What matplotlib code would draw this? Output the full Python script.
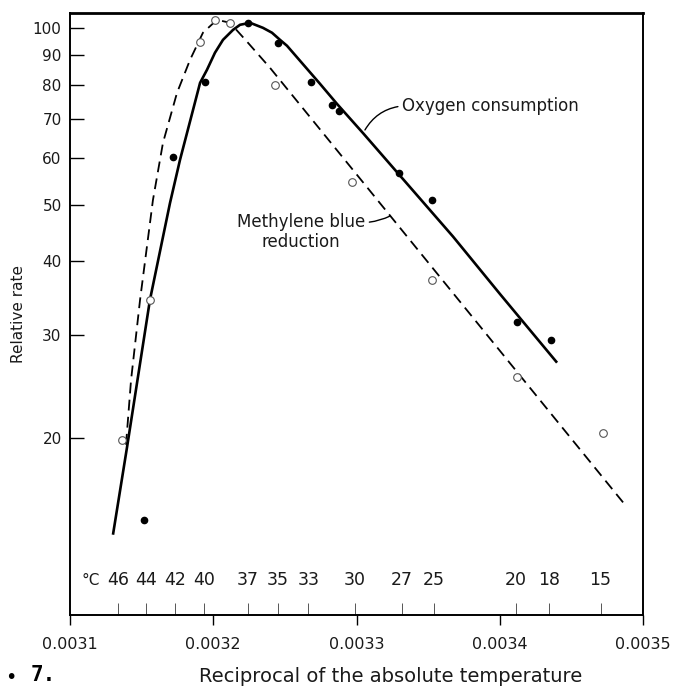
import numpy as np
import matplotlib
matplotlib.use("Agg")
import matplotlib.pyplot as plt
import matplotlib.transforms as mtransforms
from matplotlib.ticker import FixedLocator, NullLocator

plt.rcParams['font.family'] = ['DejaVu Sans']

# measured points: reciprocal of absolute temperature vs relative rate
o2_x = [0.003152, 0.003172, 0.003194, 0.003224, 0.003245, 0.003268,
        0.003283, 0.003288, 0.003330, 0.003353, 0.003412, 0.003436]
o2_y = [14.5, 60.3, 80.9, 102.0, 94.3, 80.9, 73.8, 72.2, 56.6, 50.9, 31.6, 29.4]

mb_x = [0.003136, 0.003156, 0.003191, 0.003201, 0.003212, 0.003243,
        0.003297, 0.003353, 0.003412, 0.003472]
mb_y = [19.9, 34.4, 94.7, 103.2, 102.0, 80.0, 54.7, 37.2, 25.4, 20.4]

# curves as drawn in the figure
o2_curve_x = [0.0031300, 0.0031398, 0.0031558, 0.0031698, 0.0031768,
              0.0031859, 0.0031908, 0.0031956, 0.0032012, 0.0032068,
              0.0032138, 0.0032187, 0.0032257, 0.0032347, 0.0032410,
              0.0032466, 0.0032515, 0.0032557, 0.0032745, 0.0032864,
              0.0033045, 0.0033304, 0.0033674, 0.0034002, 0.0034400]
o2_curve_y = [13.7, 19.3, 34.4, 50.3, 59.6, 72.5, 80.6, 84.8, 90.7, 95.4,
              99.2, 101.2, 102.0, 100.0, 98.1, 95.4, 93.2, 90.7, 80.3, 74.2,
              66.2, 56.0, 44.1, 35.2, 26.9]

mb_curve_x = [0.0031391, 0.0031426, 0.0031489, 0.0031579, 0.0031649,
              0.0031747, 0.0031838, 0.0031928, 0.0032026, 0.0032117,
              0.0032236, 0.0032396, 0.0034875]
mb_curve_y = [19.5, 25.1, 34.4, 50.9, 63.7, 77.5, 88.2, 98.1, 103.2, 102.0,
              94.7, 85.5, 15.4]

celsius = [46, 44, 42, 40, 37, 35, 33, 30, 27, 25, 20, 18, 15]
x_ticks = [0.0031, 0.0032, 0.0033, 0.0034, 0.0035]
y_ticks = [20, 30, 40, 50, 60, 70, 80, 90, 100]

TXT = '#1a1a1a'

fig = plt.figure(figsize=(6.75, 6.9), dpi=100, facecolor='white')
ax = fig.add_axes([0.1037, 0.1087, 0.8489, 0.8725])

ax.plot(o2_curve_x, o2_curve_y, color='black', lw=1.9, solid_capstyle='butt',
        solid_joinstyle='round')
ax.plot(mb_curve_x, mb_curve_y, color='black', lw=1.3, dashes=(6, 3.5))
ax.plot(o2_x, o2_y, 'o', color='black', ms=4.5)
ax.plot(mb_x, mb_y, 'o', mfc='white', mec='#555555', mew=0.8, ms=5.5)

ax.set_yscale('log')
ax.set_xlim(0.0031, 0.0035)
ax.set_ylim(10, 106)

ax.yaxis.set_major_locator(FixedLocator(y_ticks))
ax.yaxis.set_minor_locator(NullLocator())
ax.set_yticklabels([str(v) for v in y_ticks])
ax.tick_params(axis='y', direction='in', length=10, width=1, labelsize=11,
               pad=6, labelcolor=TXT)

ax.set_xticks(x_ticks)
ax.set_xticklabels([f'{v:.4f}' for v in x_ticks])
ax.tick_params(axis='x', which='major', direction='out', length=7, width=1,
               labelsize=11.5, pad=9, labelcolor=TXT)

# Celsius scale along the bottom
c_pos = [1.0 / (t + 273.15) for t in celsius]
ax.xaxis.set_minor_locator(FixedLocator(c_pos))
ax.tick_params(axis='x', which='minor', direction='in', length=9, width=0.7,
               color='#555555')
trans = mtransforms.blended_transform_factory(ax.transData, ax.transAxes)
for t, p in zip(celsius, c_pos):
    ax.text(p, 0.058, str(t), transform=trans, ha='center', va='center',
            fontsize=12.5, color=TXT)
ax.text(0.0031147, 0.058, '°C', transform=trans, ha='center', va='center',
        fontsize=11, color=TXT)

for name, s in ax.spines.items():
    s.set_linewidth(2.0 if name == 'top' else 1.4)

ax.annotate('Oxygen consumption', xy=(0.0033059, 67.0),
            xytext=(0.0033318, 73.6), ha='left', va='center', fontsize=12,
            color=TXT,
            arrowprops=dict(arrowstyle='-', lw=1, color='black',
                            connectionstyle='arc3,rad=0.25',
                            relpos=(0, 0.5), shrinkA=1, shrinkB=0))
ax.annotate('Methylene blue\nreduction', xy=(0.0033234, 47.8),
            xytext=(0.0032613, 44.9), ha='center', va='center', fontsize=12,
            linespacing=1.15, color=TXT,
            arrowprops=dict(arrowstyle='-', lw=1, color='black',
                            connectionstyle='arc3,rad=0.1',
                            relpos=(1, 0.75), shrinkA=1, shrinkB=0))

ax.set_ylabel('Relative rate', fontsize=11, color=TXT)
ax.yaxis.set_label_coords(-0.077, 0.5)
fig.text(0.578, 0.020, 'Reciprocal of the absolute temperature',
         ha='center', va='center', fontsize=14, color=TXT)
fig.text(0.016, 0.018, '•', ha='center', va='center', fontsize=14)
fig.text(0.045, 0.022, '7.', ha='left', va='center', fontsize=15,
         fontweight='bold', family='DejaVu Sans Mono')

plt.savefig('out.png', dpi=100, facecolor='white')
